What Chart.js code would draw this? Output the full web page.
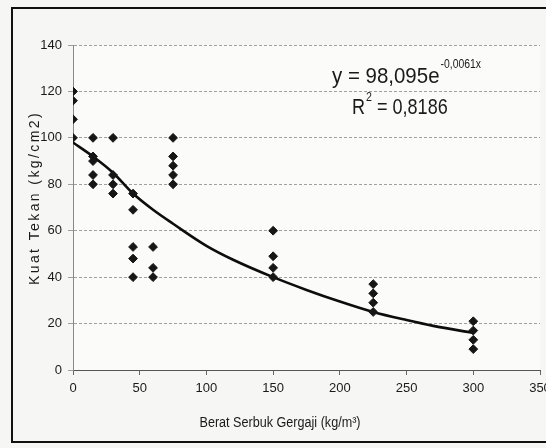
<!DOCTYPE html>
<html>
<head>
<meta charset="utf-8">
<script src="https://cdn.jsdelivr.net/npm/chart.js@4.4.1/dist/chart.umd.min.js"></script>
<style>
html,body{margin:0;padding:0;overflow:hidden;background:#f6f6f4;}
canvas{display:block;}
</style>
</head>
<body>
<canvas id="c" width="560" height="448"></canvas>
<script>
// ---- data ----
const sawdustWeights = [0, 15, 30, 45, 60, 75, 150, 225, 300];          // kg/m3
const strengthSamples = [                                                // kg/cm2 per weight
  [120, 116, 108, 100],
  [100, 92, 90, 84, 80],
  [100, 84, 80, 76],
  [76, 69, 53, 48, 40],
  [53, 44, 40],
  [100, 92, 88, 84, 80],
  [60, 49, 44, 40],
  [37, 33, 29, 25],
  [21, 17, 13, 9]
];
const trendX = [0, 15, 30, 45, 60, 75, 100, 120, 150, 175, 200, 225, 250, 270, 300];
const trendY = [98, 92, 85, 76, 69, 63, 53.5, 47.5, 40, 34.5, 29.5, 25, 21.5, 19, 16];
const xTicks = [0, 50, 100, 150, 200, 250, 300, 350];
const yTicks = [0, 20, 40, 60, 80, 100, 120, 140];
const equationMain = "y = 98,095e";
const equationExp = "-0,0061x";
const rSquaredText = "0,8186";
const xTitle = "Berat Serbuk Gergaji (kg/m\u00B3)";
const yTitle = "Kuat Tekan (kg/cm2)";

const FONT = "'Liberation Sans',Arial,sans-serif";

const scatterPts = [];
sawdustWeights.forEach((w, i) => strengthSamples[i].forEach(v => scatterPts.push({x: w, y: v})));
const trendPts = trendX.map((x, i) => ({x: x, y: trendY[i]}));

// draw text squeezed horizontally (the reference uses a narrow face)
function narrowText(ctx, txt, x, y, font, sx) {
  ctx.save();
  ctx.font = font;
  ctx.translate(x, y);
  ctx.scale(sx, 1);
  ctx.fillText(txt, 0, 0);
  const w = ctx.measureText(txt).width * sx;
  ctx.restore();
  return w;
}

const decor = {
  id: 'decor',
  beforeDraw(chart) {
    const ctx = chart.ctx;
    ctx.save();
    ctx.fillStyle = '#f6f6f4';
    ctx.fillRect(0, 0, chart.width, chart.height);
    const a = chart.chartArea;
    ctx.fillStyle = '#fbfbfa';
    ctx.fillRect(a.left, a.top, a.right - a.left, a.bottom - a.top);
    ctx.strokeStyle = '#111';
    ctx.lineWidth = 2;
    ctx.strokeRect(12, 8, 600, 434);
    ctx.restore();
  },
  afterDraw(chart) {
    const ctx = chart.ctx;
    ctx.save();
    ctx.fillStyle = '#1a1a1a';
    // y title
    ctx.save();
    ctx.translate(35, 198);
    ctx.rotate(-Math.PI / 2);
    ctx.font = '14px ' + FONT;
    ctx.letterSpacing = '2.4px';
    ctx.textAlign = 'center';
    ctx.textBaseline = 'middle';
    ctx.fillText(yTitle, 0, 0);
    ctx.restore();
    // x title
    ctx.save();
    ctx.textBaseline = 'middle';
    ctx.font = '14px ' + FONT;
    const tw = ctx.measureText(xTitle).width * 0.9;
    narrowText(ctx, xTitle, 280 - tw / 2, 423, '14px ' + FONT, 0.9);
    ctx.restore();
    // equation
    ctx.textAlign = 'left';
    ctx.textBaseline = 'alphabetic';
    let x = 332;
    x += narrowText(ctx, equationMain, x, 83, '22px ' + FONT, 0.93);
    narrowText(ctx, equationExp, x + 1, 68, '13px ' + FONT, 0.8);
    // R^2
    let rx = 352;
    rx += narrowText(ctx, 'R', rx, 114, '22px ' + FONT, 0.82);
    rx += narrowText(ctx, '2', rx + 1, 101, '13px ' + FONT, 0.82);
    narrowText(ctx, ' = ' + rSquaredText, rx + 1, 114, '22px ' + FONT, 0.82);
    ctx.restore();
  }
};

new Chart(document.getElementById('c'), {
  type: 'scatter',
  data: {
    datasets: [
      {
        label: 'data',
        data: scatterPts,
        pointStyle: 'rectRot',
        pointRadius: 4.4,
        backgroundColor: '#161616',
        borderColor: '#161616',
        borderWidth: 1,
        order: 1
      },
      {
        label: 'trend',
        data: trendPts,
        showLine: true,
        pointRadius: 0,
        borderColor: '#0d0d0d',
        borderWidth: 2.6,
        cubicInterpolationMode: 'monotone',
        order: 2
      }
    ]
  },
  options: {
    responsive: false,
    animation: false,
    events: [],
    layout: {padding: {left: 0, right: 20, top: 45, bottom: 0}},
    plugins: {legend: {display: false}, tooltip: {enabled: false}},
    scales: {
      x: {
        type: 'linear',
        min: 0, max: 350,
        afterBuildTicks(s) { s.ticks = xTicks.map(v => ({value: v})); },
        afterFit(s) { s.height = 78; },
        ticks: {color: '#1a1a1a', font: {family: FONT, size: 13}, padding: 6, maxRotation: 0},
        grid: {drawOnChartArea: false, drawTicks: true, tickLength: 5, color: '#666'},
        border: {color: '#555', width: 1}
      },
      y: {
        type: 'linear',
        min: 0, max: 140,
        afterBuildTicks(s) { s.ticks = yTicks.map(v => ({value: v})); },
        afterFit(s) { s.width = 73; },
        ticks: {color: '#1a1a1a', font: {family: FONT, size: 13}, padding: 6},
        grid: {color: '#a0a0a0', lineWidth: 1, tickLength: 5},
        border: {color: '#888', width: 1, dash: [3, 2]}
      }
    }
  },
  plugins: [decor]
});
</script>
</body>
</html>
